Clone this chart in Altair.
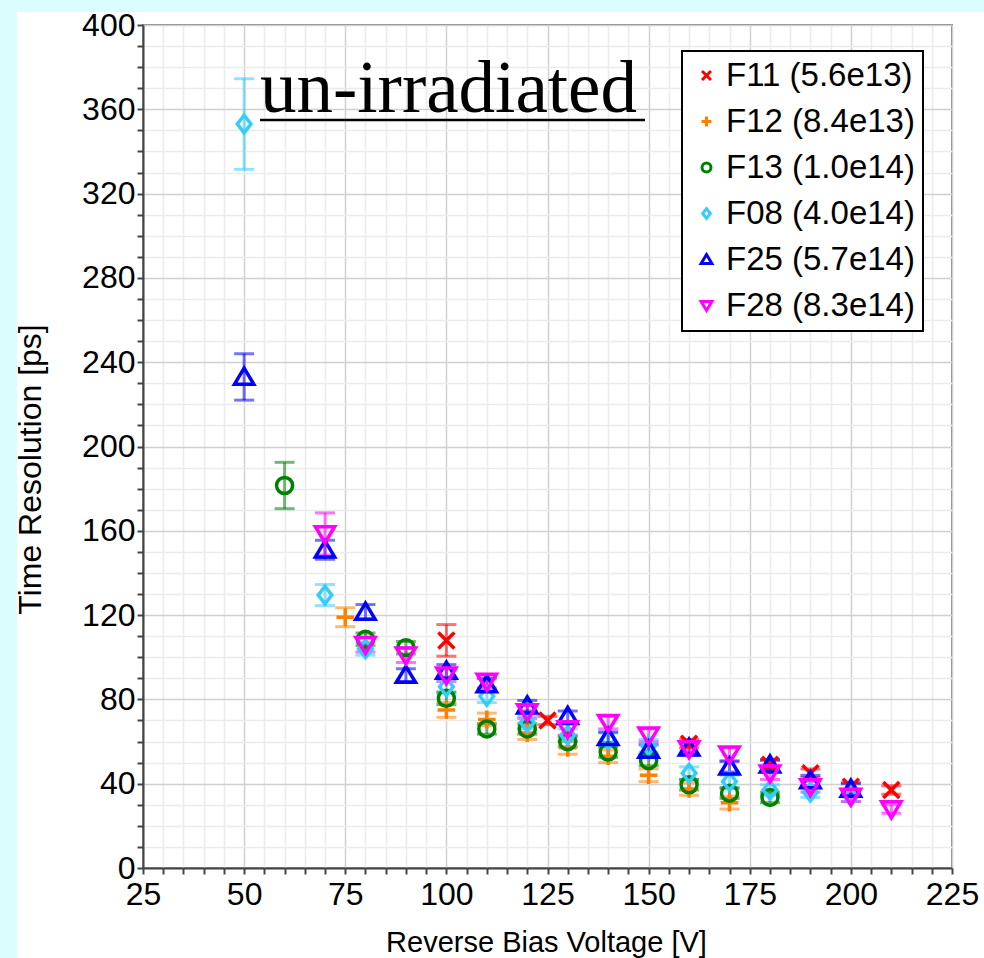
import altair as alt
import pandas as pd

# ---------------- data ----------------
series = ["F11 (5.6e13)", "F12 (8.4e13)", "F13 (1.0e14)",
          "F08 (4.0e14)", "F25 (5.7e14)", "F28 (8.3e14)"]
colors = ["#ff0000", "#ff8000", "#008000", "#33ccff", "#0000ff", "#ff00ff"]
shapes = ["M-1,-1L1,1M1,-1L-1,1",
          "M-1.1,0L1.1,0M0,-1.1L0,1.1",
          "circle",
          "M0,-1.1L0.85,0L0,1.1L-0.85,0Z",
          "M0,-1.1L1.2,0.9L-1.2,0.9Z",
          "M0,1.1L1.2,-0.9L-1.2,-0.9Z"]

F11_x = [100, 125, 160, 180, 190, 200, 210]
F11_y = [108, 70, 59, 49, 45, 38.5, 37]
F11_e = [7.5, 2, 2, 2, 2, 2, 2]

F12_x = [75, 100, 110, 120, 130, 140, 150, 160, 170]
F12_y = [119, 75, 70.5, 64, 57, 53, 44, 37.5, 31]
F12_e = [4.5, 3.5, 3, 3, 3, 3, 3, 3, 3]

F13_x = [60, 80, 90, 100, 110, 120, 130, 140, 150, 160, 170, 180]
F13_y = [181.5, 108.5, 104.5, 80.5, 66, 66, 60, 55, 51, 39.5, 35.5, 33.5]
F13_e = [11, 3, 3, 3, 2.5, 2.5, 2.5, 2.5, 2.5, 2.5, 2.5, 2.5]

F08_x = [50, 70, 80, 100, 110, 120, 130, 140, 150, 160, 170, 180, 190, 200]
F08_y = [353, 129.5, 104, 86, 81.5, 69, 63, 61, 58, 45, 41, 37, 36, 34]
F08_e = [21.5, 5, 3, 3, 3, 3, 3, 3, 3, 3, 3, 2.5, 2.5, 2.5]

F25_x = [50, 70, 80, 90, 100, 110, 120, 130, 140, 150, 160, 170, 180, 190, 200]
F25_y = [233, 151, 121.5, 91.5, 93.5, 87, 77, 72, 62, 56, 57, 48, 49, 41.5, 37.5]
F25_e = [11, 4.5, 3.5, 3, 3, 3, 2.5, 2.5, 2.5, 2.5, 2.5, 2.5, 2.5, 2.5, 2.5]

F28_x = [70, 80, 90, 100, 110, 120, 130, 140, 150, 160, 170, 180, 190, 200, 210]
F28_y = [158.5, 106, 101, 91.5, 88.5, 74, 66, 69, 63, 56.5, 54, 45, 38.5, 34, 28]
F28_e = [10, 3.5, 3.5, 3, 3, 3, 3, 3, 3, 3, 3, 3, 2.5, 2.5, 2]

x_minor = list(range(25, 226, 5))
y_minor = list(range(0, 401, 10))

rows = []
for name, xs, ys, es in [
    (series[0], F11_x, F11_y, F11_e),
    (series[1], F12_x, F12_y, F12_e),
    (series[2], F13_x, F13_y, F13_e),
    (series[3], F08_x, F08_y, F08_e),
    (series[4], F25_x, F25_y, F25_e),
    (series[5], F28_x, F28_y, F28_e),
]:
    for xv, yv, ev in zip(xs, ys, es):
        rows.append({"s": name, "sb": name, "v": xv, "t": yv, "lo": yv - ev, "hi": yv + ev})
df = pd.DataFrame(rows)

FONT = "Liberation Sans"
W, H = 809, 843

xscale = alt.Scale(domain=[25, 225], nice=False, zero=False)
yscale = alt.Scale(domain=[0, 400], nice=False, zero=False)
cscale = alt.Scale(domain=series, range=colors)
sscale = alt.Scale(domain=series, range=shapes)
# error bars: same colours, own scale (different domain order keeps them out of the legend)
err_domain = sorted(series)
err_range = [colors[series.index(s)] for s in err_domain]
escale = alt.Scale(domain=err_domain, range=err_range)

xaxis = alt.Axis(
    values=x_minor,
    labelExpr="datum.value % 25 === 0 ? datum.label : ''",
    labelOverlap=False, labelFlush=False, labelBound=False,
    labelFont=FONT, labelFontSize=32, labelColor="black", labelPadding=5,
    grid=True,
    gridColor={"condition": {"test": "datum.value % 25 === 0", "value": "#d0d0d0"}, "value": "#ebebeb"},
    gridWidth=1.5,
    tickColor="#444", tickWidth=2, tickSize=6,
    domainColor="#444", domainWidth=2,
    title="Reverse Bias Voltage [V]",
    titleFont=FONT, titleFontSize=29, titleFontWeight="normal", titleColor="black",
    titleX=403, titleY=83, titleBaseline="alphabetic", titleAnchor="middle",
)
yaxis = alt.Axis(
    values=y_minor,
    labelExpr="datum.value % 40 === 0 ? datum.label : ''",
    labelOverlap=False, labelFlush=False, labelBound=False,
    labelFont=FONT, labelFontSize=32, labelColor="black", labelPadding=2,
    grid=True,
    gridColor={"condition": {"test": "datum.value % 40 === 0", "value": "#d0d0d0"}, "value": "#ebebeb"},
    gridWidth=1.5,
    tickColor="#444", tickWidth=2, tickSize=6,
    domainColor="#444", domainWidth=2,
    title="Time Resolution [ps]",
    titleFont=FONT, titleFontSize=32, titleFontWeight="normal", titleColor="black",
    titleX=-103, titleY=444, titleBaseline="alphabetic", titleAngle=270,
)

leg = alt.Legend(
    orient="none", legendX=539, legendY=26,
    strokeColor="black", fillColor="white", padding=8,
    labelFont=FONT, labelFontSize=33, labelColor="black", labelLimit=400,
    symbolSize=80, symbolStrokeWidth=3, rowPadding=12, labelOffset=3,
)

base = alt.Chart(df)
X = alt.X("v:Q", scale=xscale, axis=xaxis)

bars = base.mark_rule(strokeWidth=3, opacity=0.55).encode(
    x=X,
    y=alt.Y("lo:Q", scale=yscale, axis=yaxis),
    y2="hi:Q",
    stroke=alt.Stroke("sb:N", scale=escale, legend=None),
)
cap_lo = base.mark_tick(orient="horizontal", size=20, thickness=3, opacity=0.55).encode(
    x=X,
    y=alt.Y("lo:Q", scale=yscale, axis=yaxis),
    fill=alt.Fill("sb:N", scale=escale, legend=None),
)
cap_hi = base.mark_tick(orient="horizontal", size=20, thickness=3, opacity=0.55).encode(
    x=X,
    y=alt.Y("hi:Q", scale=yscale, axis=yaxis),
    fill=alt.Fill("sb:N", scale=escale, legend=None),
)
pts = base.mark_point(filled=False, strokeWidth=3.5, size=256, opacity=1).encode(
    x=X,
    y=alt.Y("t:Q", scale=yscale, axis=yaxis),
    color=alt.Color("s:N", scale=cscale, legend=leg, title=None),
    shape=alt.Shape("s:N", scale=sscale, legend=leg, title=None),
)

# decorative cyan border strips (page background) and annotation
strip_left = alt.Chart(df).mark_rect(color="#dafdfd").encode(
    x=alt.value(-143), x2=alt.value(-126), y=alt.value(-25), y2=alt.value(933))
strip_top = alt.Chart(df).mark_rect(color="#dafdfd").encode(
    x=alt.value(-143), x2=alt.value(841), y=alt.value(-25), y2=alt.value(-13))

label_df = pd.DataFrame({"txt": ["un-irradiated"]})
note = alt.Chart(label_df).mark_text(
    font="Liberation Serif", fontSize=73, align="left", baseline="alphabetic", color="black"
).encode(text="txt:N", x=alt.value(117), y=alt.value(87))
underline = alt.Chart(label_df).mark_rule(color="black", strokeWidth=2.5).encode(
    x=alt.value(117), x2=alt.value(502), y=alt.value(95))

chart = alt.layer(strip_left, strip_top, bars, cap_lo, cap_hi, pts, note, underline).properties(
    width=W, height=H,
    autosize=alt.AutoSizeParams(type="none"),
    padding={"left": 143, "top": 25, "right": 32, "bottom": 90},
    background="white",
).configure_view(stroke="#888", strokeWidth=2).configure_legend(strokeWidth=2) \
 .configure_axis(labelOverlap=False)

chart.save("out.html", embed_options={"renderer": "svg", "actions": False})
